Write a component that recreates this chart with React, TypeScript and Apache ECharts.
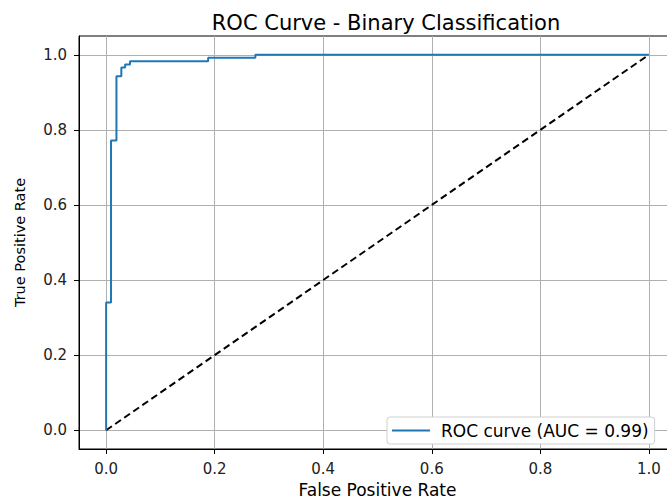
import React, { useEffect, useRef } from "react";
import * as echarts from "echarts";

const fpr = [0, 0, 0.009, 0.009, 0.019, 0.019, 0.028, 0.028, 0.035, 0.035, 0.044, 0.044, 0.188, 0.188, 0.275, 0.275, 1.0];
const tpr = [0, 0.34, 0.34, 0.772, 0.772, 0.943, 0.943, 0.966, 0.966, 0.974, 0.974, 0.983, 0.983, 0.992, 0.992, 1.0, 1.0];
const diagX = [0, 1];
const diagY = [0, 1];
const ticks = [0, 0.2, 0.4, 0.6, 0.8, 1.0];
const rocName = "ROC curve (AUC = 0.99)";

export default function App() {
  const ref = useRef<HTMLDivElement>(null);
  useEffect(() => {
    if (!ref.current) return;
    const chart = echarts.init(ref.current, null, { renderer: "svg" });
    const font = "DejaVu Sans";
    const axisCommon = (name: string, isY: boolean) => ({
      type: "value" as const,
      min: -0.05,
      max: 1.05,
      name,
      nameLocation: "middle" as const,
      nameGap: isY ? 52 : 32,
      nameTextStyle: { fontFamily: font, fontSize: isY ? 14.5 : 17, color: "#000" },
      axisLine: { show: true, onZero: false, lineStyle: { color: "#000", width: 1 } },
      axisTick: { show: true, customValues: ticks, length: 5, lineStyle: { color: "#000" } },
      axisLabel: {
        customValues: ticks,
        fontFamily: font,
        fontSize: 15,
        color: "#222",
        margin: isY ? 12 : 12,
        formatter: (v: number) => v.toFixed(1),
      },
      splitLine: { show: true, lineStyle: { color: "#b0b0b0", width: 1 } },
    });
    chart.setOption({
      animation: false,
      backgroundColor: "#fff",
      title: {
        text: "ROC Curve - Binary Classification",
        left: 381,
        top: 7,
        textAlign: "center",
        textStyle: { fontFamily: font, fontSize: 21, fontWeight: "normal", color: "#000" },
      },
      grid: {
        left: 79,
        top: 36,
        width: 597,
        height: 416,
        show: true,
        borderColor: "#000",
        borderWidth: 1,
        containLabel: false,
      },
      xAxis: axisCommon("False Positive Rate", false),
      yAxis: axisCommon("True Positive Rate", true),
      legend: {
        data: [{ name: rocName, icon: "rect" }],
        left: 387,
        top: 417,
        orient: "vertical",
        backgroundColor: "#fff",
        borderColor: "#d0d0d0",
        borderWidth: 1,
        borderRadius: 3,
        padding: [5, 6, 5, 5],
        itemWidth: 38,
        itemHeight: 2,
        textStyle: { fontFamily: font, fontSize: 17, color: "#000", padding: [0, 0, 0, 6] },
      },
      series: [
        {
          name: rocName,
          type: "line",
          data: fpr.map((x, i) => [x, tpr[i]]),
          symbol: "none",
          lineStyle: { color: "#1f77b4", width: 2 },
          itemStyle: { color: "#1f77b4" },
          z: 3,
        },
        {
          name: "diag",
          type: "line",
          data: diagX.map((x, i) => [x, diagY[i]]),
          symbol: "none",
          lineStyle: { color: "#000", width: 2, type: [7, 4] },
          z: 2,
        },
      ],
    });
    return () => chart.dispose();
  }, []);
  return (
    <div
      ref={ref}
      style={{ position: "fixed", left: 0, top: 0, width: 700, height: 503 }}
    />
  );
}
